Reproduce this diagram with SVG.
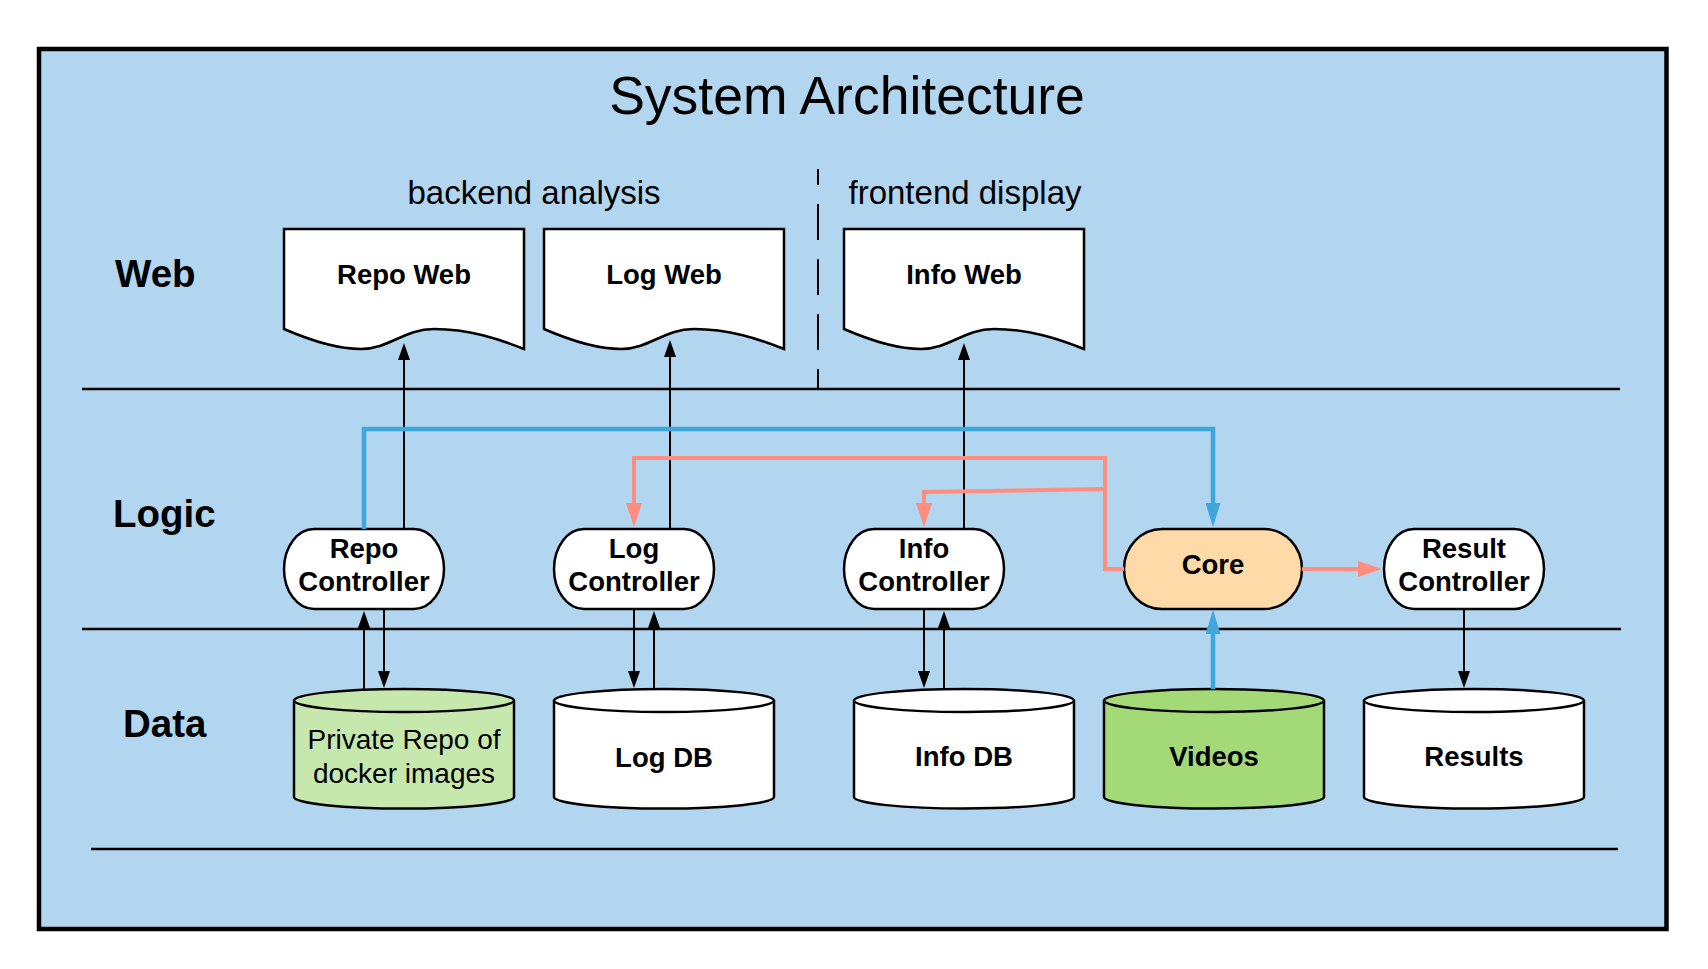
<svg xmlns="http://www.w3.org/2000/svg" width="1708" height="969" viewBox="0 0 1708 969">
<style>
.frame{fill:#b3d6f0;stroke:#000;stroke-width:4.5}
.sep{stroke:#000;stroke-width:2.5;fill:none}
.node{stroke:#000;stroke-width:2.5}
.w{fill:#fff}
.t{font-family:"Liberation Sans",Arial,sans-serif;fill:#000;text-anchor:middle}
.b{font-weight:bold;font-size:27.5px}
.r{font-size:28px}
.lbl{font-family:"Liberation Sans",Arial,sans-serif;font-weight:bold;font-size:38.5px;fill:#000}
.blk{stroke:#000;stroke-width:2;fill:none}
.blu{stroke:#3ea7de;stroke-width:4.5;fill:none}
.pnk{stroke:#ff8d80;stroke-width:4;fill:none}
</style>
<defs>
<marker id="ab" markerUnits="userSpaceOnUse" markerWidth="17" markerHeight="12" refX="0" refY="6" orient="auto"><path d="M0,0 L17,6 L0,12 Z" fill="#000"/></marker>
<marker id="abl" markerUnits="userSpaceOnUse" markerWidth="24" markerHeight="15" refX="0" refY="7.5" orient="auto"><path d="M0,0 L24,7.5 L0,15 Z" fill="#3ea7de"/></marker>
<marker id="ap" markerUnits="userSpaceOnUse" markerWidth="24" markerHeight="16" refX="0" refY="8" orient="auto"><path d="M0,0 L24,8 L0,16 Z" fill="#ff8d80"/></marker>
</defs>
<rect class="frame" x="39" y="49" width="1627.5" height="880"/>
<g id="labels">
<text class="t" x="847" y="114" font-size="53.5">System Architecture</text>
<text class="t" x="534" y="204" font-size="33">backend analysis</text>
<text class="t" x="965" y="204" font-size="33">frontend display</text>
<text class="lbl" x="115" y="287">Web</text>
<text class="lbl" x="113" y="527">Logic</text>
<text class="lbl" x="123" y="737">Data</text>
</g>
<g id="separators">
<line class="sep" x1="82" y1="389" x2="1620" y2="389"/>
<line class="sep" x1="82" y1="629" x2="1621" y2="629"/>
<line class="sep" x1="91" y1="849" x2="1618" y2="849"/>
<line x1="818" y1="169" x2="818" y2="389" stroke="#000" stroke-width="2" stroke-dasharray="36 19" stroke-dashoffset="20"/>
</g>
<g id="repo-web"><path class="node w" d="M284,229 H524 V349 C499,339 469,329 434,329 C404,329 389,349 361,349 C339,349 314,342 284,329 Z"/><text class="t b" x="404" y="284">Repo Web</text></g>
<g id="log-web"><path class="node w" d="M544,229 H784 V349 C759,339 729,329 694,329 C664,329 649,349 621,349 C599,349 574,342 544,329 Z"/><text class="t b" x="664" y="284">Log Web</text></g>
<g id="info-web"><path class="node w" d="M844,229 H1084 V349 C1059,339 1029,329 994,329 C964,329 949,349 921,349 C899,349 874,342 844,329 Z"/><text class="t b" x="964" y="284">Info Web</text></g>
<g id="repo-controller"><rect class="node w" x="284" y="529" width="160" height="80" rx="30" ry="40"/><text class="t b" x="364" y="558">Repo</text><text class="t b" x="364" y="591">Controller</text></g>
<g id="log-controller"><rect class="node w" x="554" y="529" width="160" height="80" rx="30" ry="40"/><text class="t b" x="634" y="558">Log</text><text class="t b" x="634" y="591">Controller</text></g>
<g id="info-controller"><rect class="node w" x="844" y="529" width="160" height="80" rx="30" ry="40"/><text class="t b" x="924" y="558">Info</text><text class="t b" x="924" y="591">Controller</text></g>
<g id="core"><rect class="node" fill="#fedaa8" x="1124" y="529" width="178" height="80" rx="38" ry="40"/><text class="t b" x="1213" y="574">Core</text></g>
<g id="result-controller"><rect class="node w" x="1384" y="529" width="160" height="80" rx="30" ry="40"/><text class="t b" x="1464" y="558">Result</text><text class="t b" x="1464" y="591">Controller</text></g>
<g id="private-repo"><path class="node" fill="#c7e8ad" d="M294,700.5 A110,11.5 0 0 1 514,700.5 V797 A110,11.5 0 0 1 294,797 Z"/><path class="node" fill="none" d="M294,700.5 A110,11.5 0 0 0 514,700.5"/><text class="t r" x="404" y="749">Private Repo of</text><text class="t r" x="404" y="783">docker images</text></g>
<g id="log-db"><path class="node w" d="M554,700.5 A110,11.5 0 0 1 774,700.5 V797 A110,11.5 0 0 1 554,797 Z"/><path class="node" fill="none" d="M554,700.5 A110,11.5 0 0 0 774,700.5"/><text class="t b" x="664" y="767">Log DB</text></g>
<g id="info-db"><path class="node w" d="M854,700.5 A110,11.5 0 0 1 1074,700.5 V797 A110,11.5 0 0 1 854,797 Z"/><path class="node" fill="none" d="M854,700.5 A110,11.5 0 0 0 1074,700.5"/><text class="t b" x="964" y="766">Info DB</text></g>
<g id="videos"><path class="node" fill="#a3d977" d="M1104,700.5 A110,11.5 0 0 1 1324,700.5 V797 A110,11.5 0 0 1 1104,797 Z"/><path class="node" fill="none" d="M1104,700.5 A110,11.5 0 0 0 1324,700.5"/><text class="t b" x="1214" y="766">Videos</text></g>
<g id="results"><path class="node w" d="M1364,700.5 A110,11.5 0 0 1 1584,700.5 V797 A110,11.5 0 0 1 1364,797 Z"/><path class="node" fill="none" d="M1364,700.5 A110,11.5 0 0 0 1584,700.5"/><text class="t b" x="1474" y="766">Results</text></g>
<g id="connectors">
<path class="blk" d="M404,529 V360" marker-end="url(#ab)"/>
<path class="blk" d="M670,529 V357" marker-end="url(#ab)"/>
<path class="blk" d="M964,529 V360" marker-end="url(#ab)"/>
<path class="blk" d="M364,689 V628" marker-end="url(#ab)"/>
<path class="blk" d="M384,609 V671" marker-end="url(#ab)"/>
<path class="blk" d="M634,609 V671" marker-end="url(#ab)"/>
<path class="blk" d="M654,689 V628" marker-end="url(#ab)"/>
<path class="blk" d="M924,609 V671" marker-end="url(#ab)"/>
<path class="blk" d="M944,689 V628" marker-end="url(#ab)"/>
<path class="blk" d="M1464,609 V671" marker-end="url(#ab)"/>
<path class="blu" d="M364,529 V429 H1213 V503" marker-end="url(#abl)"/>
<path class="blu" d="M1213,689 V634" marker-end="url(#abl)"/>
<path class="pnk" d="M1124,569 H1105 V458 H634 V503" marker-end="url(#ap)"/>
<path class="pnk" d="M1105,489 L924,492 V503" marker-end="url(#ap)"/>
<path class="pnk" d="M1302,569 H1358" marker-end="url(#ap)"/>
</g>
</svg>
